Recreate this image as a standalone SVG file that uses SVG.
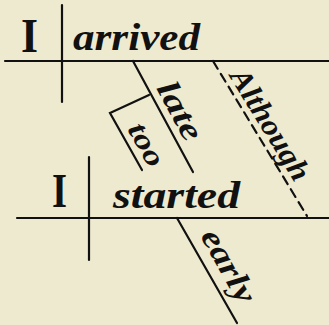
<svg xmlns="http://www.w3.org/2000/svg" width="329" height="325" viewBox="0 0 329 325">
<style>
.ln{stroke:#111;stroke-width:2.2;fill:none;stroke-linecap:round}
.dash{stroke-dasharray:9 6}
.w{font-family:"Liberation Serif","DejaVu Serif",serif;font-style:italic;font-weight:bold;fill:#111}
.i{font-family:"Liberation Serif","DejaVu Serif",serif;font-weight:bold;fill:#111}
</style>
<rect width="329" height="325" fill="#eeeacf"/>
<g id="connectors">
<line class="ln" x1="5" y1="61" x2="329" y2="61"/>
<line class="ln" x1="62" y1="5" x2="62" y2="102"/>
<line class="ln" x1="133" y1="61" x2="193" y2="172"/>
<polyline class="ln" points="149,95 110,113 142,170"/>
<line class="ln dash" x1="213" y1="61" x2="307" y2="216"/>
<line class="ln" x1="17" y1="218" x2="329" y2="218"/>
<line class="ln" x1="89" y1="157" x2="89" y2="260"/>
<line class="ln" x1="177" y1="218" x2="237" y2="323"/>
</g>
<g id="n-I1"><text class="i" x="21" y="52" font-size="48" textLength="17" lengthAdjust="spacingAndGlyphs">I</text></g>
<g id="n-arrived"><text class="w" x="73" y="50" font-size="38" textLength="127" lengthAdjust="spacingAndGlyphs">arrived</text></g>
<g id="n-late"><text class="w" font-size="32" textLength="63" lengthAdjust="spacingAndGlyphs" transform="translate(156,88) rotate(61.8)">late</text></g>
<g id="n-too"><text class="w" font-size="29" textLength="46" lengthAdjust="spacingAndGlyphs" transform="translate(127,129) rotate(60.7)">too</text></g>
<g id="n-Although"><text class="w" font-size="30" textLength="126" lengthAdjust="spacingAndGlyphs" transform="translate(229,76) rotate(58.4)">Although</text></g>
<g id="n-I2"><text class="i" x="52" y="207" font-size="48" textLength="15" lengthAdjust="spacingAndGlyphs">I</text></g>
<g id="n-started"><text class="w" x="113" y="208" font-size="38" textLength="127" lengthAdjust="spacingAndGlyphs">started</text></g>
<g id="n-early"><text class="w" font-size="32" textLength="80" lengthAdjust="spacingAndGlyphs" transform="translate(200,236) rotate(60.7)">early</text></g>
</svg>
